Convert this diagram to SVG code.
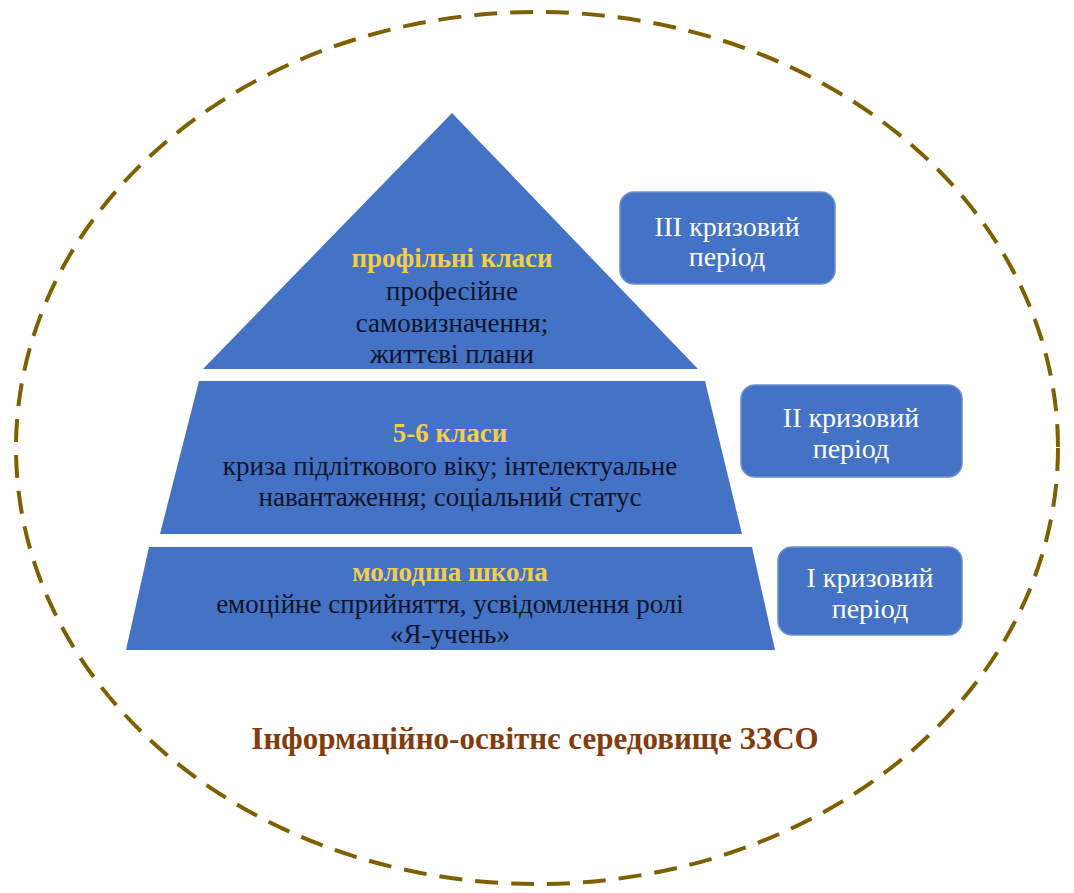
<svg xmlns="http://www.w3.org/2000/svg" width="1074" height="893" viewBox="0 0 1074 893">
<style>
.tier{fill:#4472C4;}
.box{fill:#4472C4;stroke:#6a8fd3;stroke-width:1.5;}
.t{font-family:"Liberation Serif","Times New Roman",serif;font-size:27px;fill:#10142a;text-anchor:middle;}
.h{font-family:"Liberation Serif","Times New Roman",serif;font-size:27px;font-weight:bold;fill:#F4CE46;text-anchor:middle;}
.b{font-family:"Liberation Serif","Times New Roman",serif;font-size:28px;fill:#ffffff;text-anchor:middle;}
.title{font-family:"Liberation Serif","Times New Roman",serif;font-size:31px;font-weight:bold;fill:#843C0C;text-anchor:middle;}
</style>
<rect width="1074" height="893" fill="#ffffff"/>
<g id="environment">
<ellipse cx="537" cy="448" rx="521" ry="436" fill="none" stroke="#7F6000" stroke-width="4" stroke-dasharray="23 13"/>
<text class="title" x="535" y="749">Інформаційно-освітнє середовище ЗЗСО</text>
</g>
<g id="tier-top">
<polygon class="tier" points="452,113 698,369 203,369"/>
<text class="h" x="452" y="267">профільні класи</text>
<text class="t" x="452" y="300">професійне</text>
<text class="t" x="452" y="332">самовизначення;</text>
<text class="t" x="452" y="363">життєві плани</text>
</g>
<g id="tier-middle">
<polygon class="tier" points="199,381 705,381 742,534 160,534"/>
<text class="h" x="450" y="442">5-6 класи</text>
<text class="t" x="450" y="475">криза підліткового віку; інтелектуальне</text>
<text class="t" x="450" y="506">навантаження; соціальний статус</text>
</g>
<g id="tier-bottom">
<polygon class="tier" points="149,547 752,547 775,650 126,650"/>
<text class="h" x="450" y="581">молодша школа</text>
<text class="t" x="450" y="613">емоційне сприйняття, усвідомлення ролі</text>
<text class="t" x="450" y="643">«Я-учень»</text>
</g>
<g id="period-3">
<rect class="box" x="620" y="192" width="215" height="92" rx="14"/>
<text class="b" x="727" y="236">III кризовий</text>
<text class="b" x="727" y="266">період</text>
</g>
<g id="period-2">
<rect class="box" x="741" y="385" width="221" height="92" rx="14"/>
<text class="b" x="851" y="427">II кризовий</text>
<text class="b" x="851" y="458">період</text>
</g>
<g id="period-1">
<rect class="box" x="778" y="547" width="184" height="88" rx="14"/>
<text class="b" x="870" y="587">I кризовий</text>
<text class="b" x="870" y="618">період</text>
</g>
<g id="connectors"></g>
</svg>
